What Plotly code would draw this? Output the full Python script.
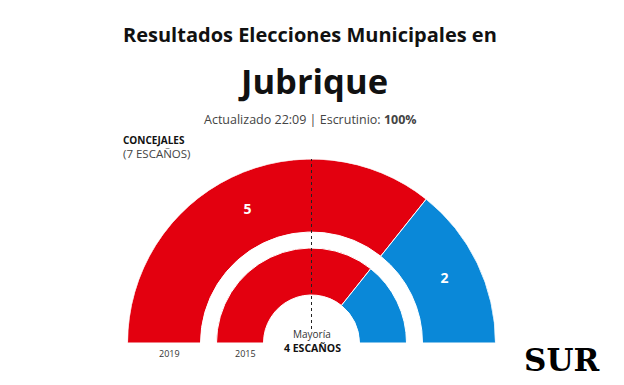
import plotly.graph_objects as go

# ---- data ----
parties = ["Izquierda", "Derecha"]
party_colors = ["#E3000F", "#0A88D8"]
seats_2019 = [5, 2]
seats_2015 = [5, 2]
years = ["2019", "2015"]
total_seats = 7
majority = total_seats // 2 + 1

W, H = 624, 385
CX, CY, R = 311.5, 343, 184  # polar centre/radius in px (layout)
rings = {"2019": (111, 184), "2015": (48, 95)}

def arcs(seats):
    tot = sum(seats)
    cum = 0
    th, wd = [], []
    for s in seats:
        w = s / tot * 180
        th.append(cum + w / 2)
        wd.append(w)
        cum += w
    return th, wd

def ann(text, x, y, size, bold=False, color="#111", family="Open Sans", xanchor="center"):
    fig.add_annotation(text=text, x=x / W, y=1 - y / H, xref="paper", yref="paper",
                       showarrow=False, xanchor=xanchor, yanchor="middle",
                       font=dict(size=size, color=color, family=family,
                                 weight="bold" if bold else "normal"))

fig = go.Figure()
for yr, seats, show_lbl in [(years[0], seats_2019, True), (years[1], seats_2015, False)]:
    r0, r1 = rings[yr]
    th, wd = arcs(seats)
    fig.add_trace(go.Barpolar(
        theta=th, width=wd, r=[r1 - r0] * len(seats), base=[r0] * len(seats),
        marker=dict(color=party_colors, line=dict(color="white", width=1)),
        hoverinfo="skip", showlegend=False))
    if show_lbl:
        fig.add_trace(go.Scatterpolar(
            theta=th, r=[(r0 + r1) / 2] * len(seats), mode="text",
            text=[str(s) for s in seats],
            textfont=dict(color="white", size=14, family="Open Sans", weight="bold"),
            showlegend=False, hoverinfo="skip", cliponaxis=False))
    # year label under the left end of the ring
    ann(yr, CX - (r0 + r1) / 2 + 5, 353, 9, color="#333")

# majority dashed line
fig.add_trace(go.Scatterpolar(
    theta=[90, 90], r=[14, 184], mode="lines",
    line=dict(color="#222", width=1, dash="dot"),
    showlegend=False, hoverinfo="skip", cliponaxis=False))

fig.update_layout(
    width=W, height=H, margin=dict(l=0, r=0, t=0, b=0),
    paper_bgcolor="white", plot_bgcolor="white",
    polar=dict(
        domain=dict(x=[(CX - R) / W, (CX + R) / W], y=[(H - CY) / H, (H - CY + R) / H]),
        sector=[0, 180], bgcolor="rgba(0,0,0,0)",
        angularaxis=dict(direction="clockwise", rotation=180, visible=False,
                         showgrid=False, showline=False, showticklabels=False, ticks=""),
        radialaxis=dict(range=[0, R], visible=False, showgrid=False,
                        showline=False, showticklabels=False, ticks=""),
    ),
)

ann("Resultados Elecciones Municipales en", 310, 34, 20, bold=True)
ann("Jubrique", 313, 80, 34.5, bold=True)
ann("Actualizado 22:09 | Escrutinio: <b>100%</b>", 310, 119, 12.5, color="#444")
ann("CONCEJALES", 121, 140, 10, bold=True, xanchor="left")
ann("(7 ESCAÑOS)", 121, 153.5, 11.5, color="#444", xanchor="left")
ann("Mayoría", 312, 334, 10, color="#333")
ann(f"{majority} ESCAÑOS", 312, 347.5, 10.5, bold=True)
ann("SUR", 561, 360, 31, bold=True, color="#000", family="DejaVu Serif")

fig.write_html("out.html", config={"displayModeBar": False},
               post_script="document.body.style.margin='0';")
